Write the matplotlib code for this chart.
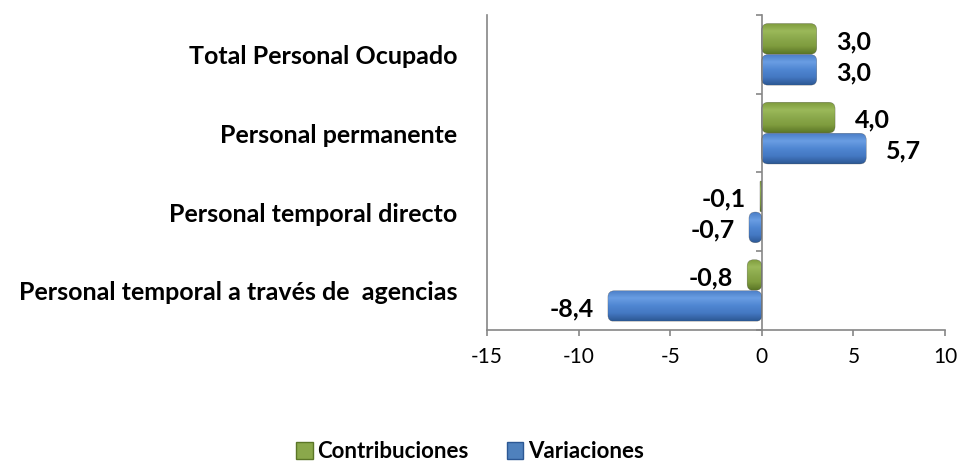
import numpy as np
import matplotlib
matplotlib.use("Agg")
import matplotlib.pyplot as plt
from matplotlib.patches import FancyBboxPatch, Patch
from matplotlib.colors import LinearSegmentedColormap
import matplotlib.transforms as mtransforms

categories = ["Total Personal Ocupado", "Personal permanente",
              "Personal temporal directo", "Personal temporal a través de  agencias"]
contribuciones = [3.0, 4.0, -0.1, -0.8]
variaciones = [3.0, 5.7, -0.7, -8.4]
xticks = [-15, -10, -5, 0, 5, 10]

plt.rcParams['font.family'] = ['Lato', 'DejaVu Sans']

green_cmap = LinearSegmentedColormap.from_list(
    "g", ["#5b7627", "#7f9c3e", "#8aa84b", "#9bb95a", "#7e9a3c"])
blue_cmap = LinearSegmentedColormap.from_list(
    "b", ["#2c5894", "#4478c2", "#4f86d2", "#6a9ee3", "#4a7dc6"])
grey = "#868686"

fig = plt.figure(figsize=(9.63, 4.61), dpi=100)
ax = fig.add_axes([0.5057, 0.2842, 0.4756, 0.6833])

y = np.arange(len(categories))[::-1]
h = 0.39
off = 0.197
bars_c = ax.barh(y + off, contribuciones, height=h, color="none", edgecolor="none")
bars_v = ax.barh(y - off, variaciones, height=h, color="none", edgecolor="none")

ax.set_xlim(-15, 10)
ax.set_ylim(-0.5, len(categories) - 0.5)

# aspect ratio of data units (y per x) for the rounded bar ends
px_x = 0.4756 * 963 / 25.0
px_y = 0.6833 * 461 / len(categories)
aspect = px_x / px_y

grad = np.linspace(0, 1, 64).reshape(-1, 1)


def cylinder(rect, cmap):
    x0 = min(rect.get_x(), rect.get_x() + rect.get_width())
    w = abs(rect.get_width())
    y0 = rect.get_y()
    hh = rect.get_height()
    r = min(0.35, w / 2.0)
    box = FancyBboxPatch((x0, y0), w, hh,
                         boxstyle="round,pad=0,rounding_size=%f" % max(r, 1e-3),
                         mutation_aspect=aspect, facecolor="none",
                         edgecolor="#3a3a3a", linewidth=0.3, alpha=0.6, zorder=3)
    ax.add_patch(box)
    im = ax.imshow(grad, cmap=cmap, extent=[x0, x0 + w, y0, y0 + hh],
                   aspect="auto", origin="lower", zorder=2, interpolation="bilinear")
    im.set_clip_path(box)


for b in bars_c:
    cylinder(b, green_cmap)
for b in bars_v:
    cylinder(b, blue_cmap)

# value labels
for bars, vals in ((bars_c, contribuciones), (bars_v, variaciones)):
    for b, v in zip(bars, vals):
        yc = b.get_y() + b.get_height() / 2
        txt = ("%.1f" % v).replace(".", ",")
        if v >= 0:
            ax.annotate(txt, (v, yc), xytext=(14, -2), textcoords="offset points",
                        ha="left", va="center", fontsize=18, fontweight="bold")
        else:
            ax.annotate(txt, (v, yc), xytext=(-10, -2), textcoords="offset points",
                        ha="right", va="center", fontsize=18, fontweight="bold")

# category labels
tr = mtransforms.blended_transform_factory(fig.transFigure, ax.transData)
for yy, cat in zip(y, categories):
    ax.text(457 / 963, yy - 0.03, cat, transform=tr, ha="right", va="center",
            fontsize=18, fontweight="bold")

# axes styling
for s in ("top", "right"):
    ax.spines[s].set_visible(False)
ax.spines["left"].set_position(("data", 0))
for s in ("left", "bottom"):
    ax.spines[s].set_color(grey)
    ax.spines[s].set_linewidth(1.2)
ax.axvline(-15, color=grey, linewidth=1.2, clip_on=False)

ax.set_yticks(np.arange(-0.5, len(categories), 1.0))
ax.set_yticklabels([])
ax.tick_params(axis="y", direction="out", length=4, color=grey, width=1.2)
ax.set_xticks(xticks)
ax.set_xticklabels([str(t) for t in xticks])
ax.tick_params(axis="x", direction="out", length=4, color=grey, width=1.2,
               labelsize=15, pad=8)

handles = [Patch(facecolor="#8aa84b", edgecolor="#5b7627", label="Contribuciones"),
           Patch(facecolor="#4f81bd", edgecolor="#2c5894", label="Variaciones")]
fig.legend(handles=handles, loc="center", bbox_to_anchor=(0.488, 0.02), ncol=2,
           frameon=False, prop={"weight": "bold", "size": 16},
           handlelength=0.75, handleheight=0.75, handletextpad=0.2, columnspacing=1.7)

fig.savefig("out.png", dpi=100)
